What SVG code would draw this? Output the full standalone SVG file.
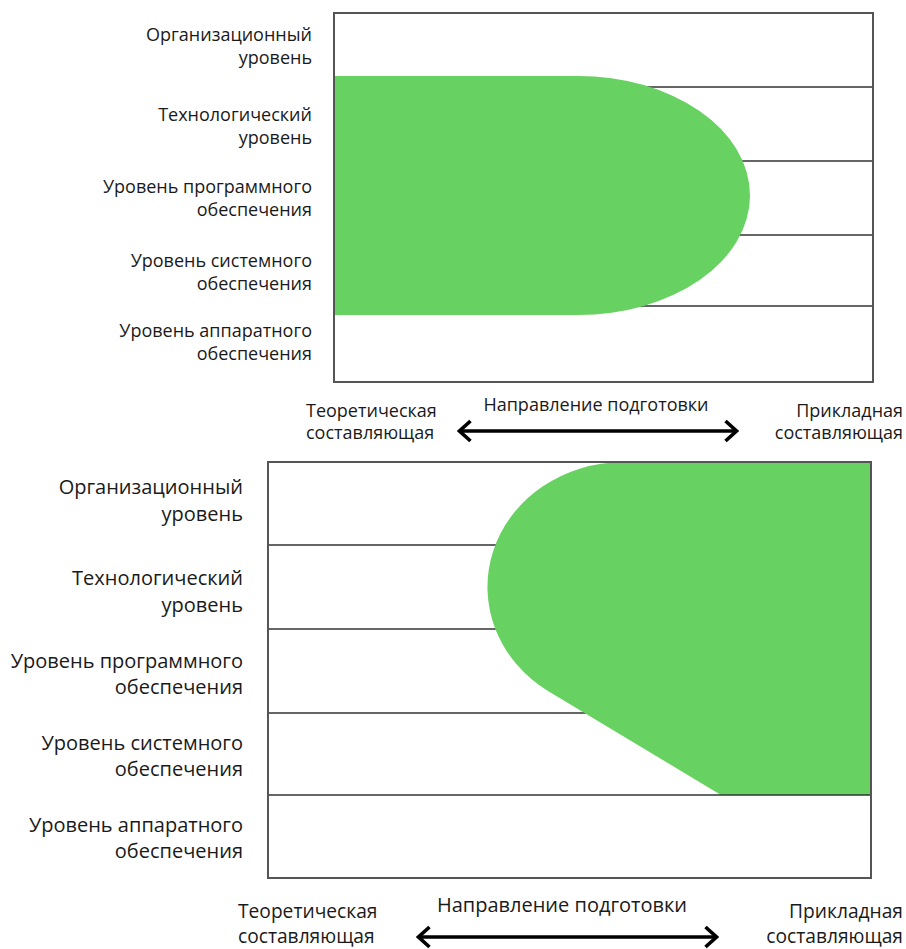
<svg xmlns="http://www.w3.org/2000/svg" width="906" height="949" viewBox="0 0 906 949">
<style>
text{font-family:"Open Sans","Noto Sans","DejaVu Sans",sans-serif;fill:#1a1a1a}
.t{font-size:18px}
.b{font-size:20px}
.c{font-size:19.2px}
.grid{stroke:#333;stroke-width:1.6;fill:none}
.frame{stroke:#555;stroke-width:2;fill:none}
.fill{fill:#67D161}
.arr{stroke:#000;stroke-width:3.4;fill:none}
</style>
<defs>
<marker id="chev" viewBox="0 0 16 24" refX="14" refY="12" markerWidth="16" markerHeight="24" orient="auto-start-reverse" markerUnits="userSpaceOnUse">
<path d="M2.5,2 L13.5,12 L2.5,22" fill="none" stroke="#000" stroke-width="3.6" stroke-linejoin="miter"/>
</marker>
</defs>
<rect width="906" height="949" fill="#fff"/>

<g id="top-diagram">
<g id="top-grid">
<line class="grid" x1="334" y1="87" x2="873" y2="87"/>
<line class="grid" x1="334" y1="161" x2="873" y2="161"/>
<line class="grid" x1="334" y1="235" x2="873" y2="235"/>
<line class="grid" x1="334" y1="306" x2="873" y2="306"/>
</g>
<path id="top-area" class="fill" d="M334,76 L578,76 A172,119.5 0 0 1 578,315 L334,315 Z"/>
<rect id="top-frame" class="frame" x="334" y="13" width="539" height="369"/>
<g id="top-l1"><text class="t" x="312" y="41" text-anchor="end">Организационный</text><text class="t" x="312" y="64" text-anchor="end">уровень</text></g>
<g id="top-l2"><text class="t" x="312" y="121" text-anchor="end">Технологический</text><text class="t" x="312" y="144" text-anchor="end">уровень</text></g>
<g id="top-l3"><text class="t" x="312" y="193" text-anchor="end">Уровень программного</text><text class="t" x="312" y="216" text-anchor="end">обеспечения</text></g>
<g id="top-l4"><text class="t" x="312" y="267" text-anchor="end">Уровень системного</text><text class="t" x="312" y="290" text-anchor="end">обеспечения</text></g>
<g id="top-l5"><text class="t" x="312" y="337" text-anchor="end">Уровень аппаратного</text><text class="t" x="312" y="360" text-anchor="end">обеспечения</text></g>
<g id="top-theory"><text class="t" x="306" y="417">Теоретическая</text><text class="t" x="306" y="439">составляющая</text></g>
<g id="top-dir"><text class="t" x="596" y="411" text-anchor="middle">Направление подготовки</text></g>
<g id="top-applied"><text class="t" x="903" y="417" text-anchor="end">Прикладная</text><text class="t" x="903" y="439" text-anchor="end">составляющая</text></g>
</g>

<g id="bottom-diagram">
<g id="bottom-grid">
<line class="grid" x1="268" y1="545" x2="871" y2="545"/>
<line class="grid" x1="268" y1="629" x2="871" y2="629"/>
<line class="grid" x1="268" y1="713" x2="871" y2="713"/>
</g>
<path id="bottom-area" class="fill" d="M871,462 L623,462 A136,125 0 0 0 548,691 L721,795 L871,795 Z"/>
<line class="grid" x1="268" y1="795" x2="871" y2="795"/>
<rect id="bottom-frame" class="frame" x="268" y="462" width="603" height="416"/>
<g id="bot-l1"><text class="b" x="243" y="494" text-anchor="end">Организационный</text><text class="b" x="243" y="521" text-anchor="end">уровень</text></g>
<g id="bot-l2"><text class="b" x="243" y="585" text-anchor="end">Технологический</text><text class="b" x="243" y="612" text-anchor="end">уровень</text></g>
<g id="bot-l3"><text class="b" x="243" y="668" text-anchor="end">Уровень программного</text><text class="b" x="243" y="694" text-anchor="end">обеспечения</text></g>
<g id="bot-l4"><text class="b" x="243" y="750" text-anchor="end">Уровень системного</text><text class="b" x="243" y="776" text-anchor="end">обеспечения</text></g>
<g id="bot-l5"><text class="b" x="243" y="832" text-anchor="end">Уровень аппаратного</text><text class="b" x="243" y="858" text-anchor="end">обеспечения</text></g>
<g id="bot-theory"><text class="c" x="238" y="918">Теоретическая</text><text class="c" x="238" y="943">составляющая</text></g>
<g id="bot-dir"><text class="b" x="562" y="912" text-anchor="middle">Направление подготовки</text></g>
<g id="bot-applied"><text class="c" x="903" y="918" text-anchor="end">Прикладная</text><text class="c" x="903" y="943" text-anchor="end">составляющая</text></g>
</g>

<g id="connectors">
<line class="arr" x1="459" y1="431" x2="737" y2="431" marker-start="url(#chev)" marker-end="url(#chev)"/>
<line class="arr" x1="418" y1="937" x2="717" y2="937" marker-start="url(#chev)" marker-end="url(#chev)"/>
</g>
</svg>
